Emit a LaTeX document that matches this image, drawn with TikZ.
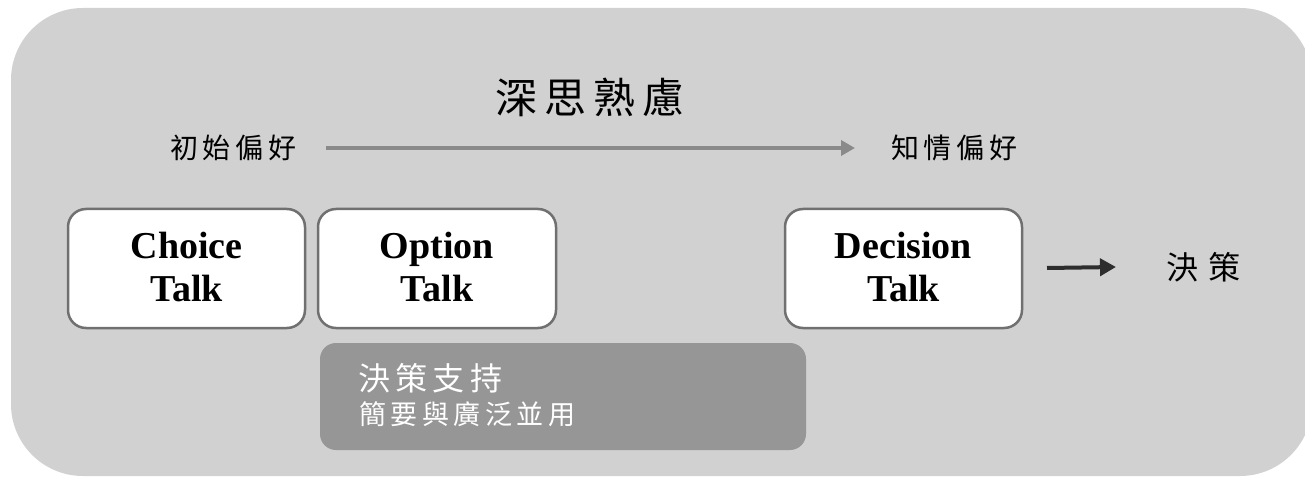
\documentclass[tikz,border=0pt]{standalone}
\usepackage{fontspec}
\setmainfont{Liberation Serif}
\newfontfamily\cjk{Noto Sans CJK TC}
\usetikzlibrary{arrows.meta}
\definecolor{bggray}{HTML}{D0D1D0}
\definecolor{boxline}{HTML}{707070}
\definecolor{darkbox}{HTML}{969696}
\definecolor{garrowc}{HTML}{8A8A8A}
\definecolor{darrowc}{HTML}{2E2E2E}
\tikzset{
  talkbox/.style={draw=boxline, line width=2.5pt, fill=white, rounded corners=18pt},
  talktext/.style={font=\fontsize{38}{43}\selectfont\bfseries, align=center, inner sep=0pt},
  cjklabel/.style={font=\cjk\fontsize{28}{30}\selectfont, inner sep=0pt, text=black},
  garrow/.style={draw=garrowc, line width=3.5pt, -{Triangle[length=14pt,width=15pt]}},
  darrow/.style={draw=darrowc, line width=4pt, -{Triangle[length=16pt,width=17pt]}},
}
\begin{document}
\begin{tikzpicture}[x=1pt,y=-1pt]
\useasboundingbox (0,0) rectangle (1305,478);
\fill[white] (0,0) rectangle (1305,478);
\fill[bggray, rounded corners=72pt] (11,8) rectangle (1312,476);
% talk boxes
\draw[talkbox] (68,209) rectangle (305,328);
\draw[talkbox] (318,209) rectangle (556,328);
\draw[talkbox] (785,209) rectangle (1022,328);
\node[talktext] (choice) at (186.5,267) {Choice\\Talk};
\node[talktext] (option) at (437,267) {Option\\Talk};
\node[talktext] (decision) at (903.5,267) {Decision\\Talk};
\coordinate (decE) at (1022,268);
% decision support box
\fill[darkbox, rounded corners=16pt] (320,343) rectangle (806,450);
\node[font=\cjk\fontsize{32}{34}\selectfont, text=white, anchor=west, inner sep=0pt] (ds) at (358,378) {決\,策\,支\,持};
\node[font=\cjk\fontsize{27}{30}\selectfont, text=white, anchor=west, inner sep=0pt] (dsub) at (359,414) {簡\,要\,與\,廣\,泛\,並\,用};
% title and preferences
\node[font=\cjk\fontsize{42}{46}\selectfont, inner sep=0pt] (title) at (590,97) {深\,思\,熟\,慮};
\node[cjklabel, anchor=west] (init) at (170,148) {初\,始\,偏\,好};
\node[cjklabel, anchor=west] (inf) at (891,148) {知\,情\,偏\,好};
\draw[garrow] ([xshift=30pt]init.east) -- ([xshift=-36pt]inf.west);
% decision
\node[font=\cjk\fontsize{32}{34}\selectfont, anchor=west, inner sep=0pt] (dec) at (1166,267) {決\,\,策};
\draw[darrow] ([xshift=25pt]decE) -- ([xshift=-50pt]dec.west);
\end{tikzpicture}
\end{document}
